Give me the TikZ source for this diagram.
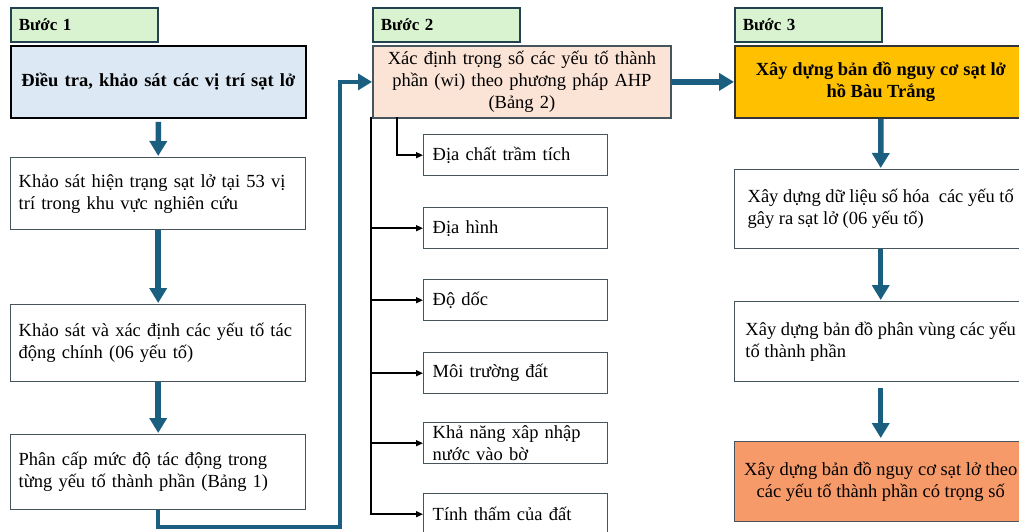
\documentclass[tikz,border=0pt]{standalone}
\usepackage{fontspec}
\setmainfont{Liberation Serif}
\usetikzlibrary{arrows.meta}
\definecolor{lblgreen}{HTML}{D9F2D0}
\definecolor{lblborder}{HTML}{23424F}
\definecolor{boxblue}{HTML}{DCE9F5}
\definecolor{peach}{HTML}{FBE3D6}
\definecolor{gold}{HTML}{FFC000}
\definecolor{coral}{HTML}{F79A6A}
\definecolor{arrblue}{HTML}{1A5F80}
\definecolor{boxgray}{HTML}{46545C}
\newcommand{\mainsz}{\fontsize{18.5}{22}\selectfont}
\begin{document}
\begin{tikzpicture}[x=1pt,y=-1pt,
  lbl/.style={draw=lblborder, line width=1.6pt, fill=lblgreen, anchor=north west,
    minimum height=34pt, text width=131pt, inner xsep=8pt, inner ysep=0pt,
    align=left, font=\bfseries\fontsize{17}{20}\selectfont},
  wbox/.style={draw=boxgray, line width=1.4pt, fill=white, anchor=north west,
    text width=279pt, inner xsep=8pt, inner ysep=0pt, align=left, font=\mainsz},
  cbox/.style={draw=boxgray, line width=1.4pt, fill=white, anchor=north west,
    minimum width=292pt, inner xsep=8pt, inner ysep=0pt, align=left, font=\mainsz},
  sbox/.style={draw=boxgray, line width=1.4pt, fill=white, anchor=north west,
    text width=166pt, minimum height=41pt, inner xsep=9pt, inner ysep=0pt,
    align=left, font=\mainsz},
  bigarr/.style={draw=arrblue, line width=5.5pt, -{Triangle[width=17pt,length=15pt]}},
  conn/.style={draw=arrblue, line width=4.5pt, line join=miter, -{Triangle[width=16pt,length=14pt]}},
  tree/.style={draw=black, line width=1.5pt, -{Triangle[width=6pt,length=7pt]}}
]
\useasboundingbox (0,0) rectangle (1019,532);
\clip (0,0) rectangle (1019,532);
\fill[white] (0,0) rectangle (1019,532);

% labels
\node[lbl] (l1) at (10,7) {Bước 1};
\node[lbl] (l2) at (372,7) {Bước 2};
\node[lbl] (l3) at (734,7) {Bước 3};

% column 1
\node[wbox, fill=boxblue, draw=black, line width=1.8pt, minimum height=72pt,
  align=center, font=\bfseries\mainsz] (a0) at (10,45)
  {Điều tra, khảo sát các vị trí sạt lở};
\node[wbox, minimum height=72pt] (a1) at (10,157)
  {Khảo sát hiện trạng sạt lở tại 53 vị\\trí trong khu vực nghiên cứu};
\node[wbox, minimum height=77pt] (a2) at (10,304)
  {Khảo sát và xác định các yếu tố tác\\động chính (06 yếu tố)};
\node[wbox, minimum height=75pt] (a3) at (10,434)
  {Phân cấp mức độ tác động trong\\từng yếu tố thành phần (Bảng 1)};

% column 2
\node[wbox, fill=peach, draw=boxgray, line width=1.8pt, text width=282pt,
  minimum height=72pt, align=center] (ahp) at (372,45)
  {Xác định trọng số các yếu tố thành\\phần (wi) theo phương pháp AHP\\(Bảng 2)};
\node[sbox] (s1) at (423,134) {Địa chất trầm tích};
\node[sbox] (s2) at (423,207) {Địa hình};
\node[sbox] (s3) at (423,279) {Độ dốc};
\node[sbox] (s4) at (423,352) {Môi trường đất};
\node[sbox] (s5) at (423,422) {Khả năng xâp nhập\\nước vào bờ};
\node[sbox] (s6) at (423,493) {Tính thấm của đất};

% column 3
\node[cbox, fill=gold, draw=black!80, line width=1.8pt, minimum height=72pt,
  align=center, font=\bfseries\mainsz] (b0) at (734,45)
  {Xây dựng bản đồ nguy cơ sạt lở\\hồ Bàu Trắng};
\node[cbox, minimum height=79pt] (b1) at (734,169)
  {Xây dựng dữ liệu số hóa\ \ các yếu tố\\gây ra sạt lở (06 yếu tố)};
\node[cbox, minimum height=80pt] (b2) at (734,301)
  {Xây dựng bản đồ phân vùng các yếu\\tố thành phần};
\node[cbox, fill=coral, minimum height=80pt, align=center] (b3) at (734,441)
  {Xây dựng bản đồ nguy cơ sạt lở theo\\các yếu tố thành phần có trọng số};

% arrows column 1
\draw[bigarr, shorten <=3pt, shorten >=1pt] (a0.south) -- (a1.north);
\draw[bigarr, shorten >=1pt] (a1.south) -- (a2.north);
\draw[bigarr, shorten >=1pt] (a2.south) -- (a3.north);

% connector to step 2
\coordinate (k1) at (340,527);
\draw[conn] (a3.south) |- (k1) |- (ahp.west);

% step 2 -> step 3
\draw[bigarr] (ahp.east) -- (b0.west);

% arrows column 3
\draw[bigarr, shorten >=1pt] (b0.south) -- (b1.north);
\draw[bigarr, shorten >=1pt] (b1.south) -- (b2.north);
\draw[bigarr, shorten <=6pt, shorten >=3pt] (b2.south) -- (b3.north);

% tree
\coordinate (t0) at (371,117);
\coordinate (t1) at (397,117);
\draw[tree] (t1) |- (s1.west);
\foreach \s in {s2,s3,s4,s5,s6} {\draw[tree] (t0) |- (\s.west);}
\end{tikzpicture}
\end{document}
